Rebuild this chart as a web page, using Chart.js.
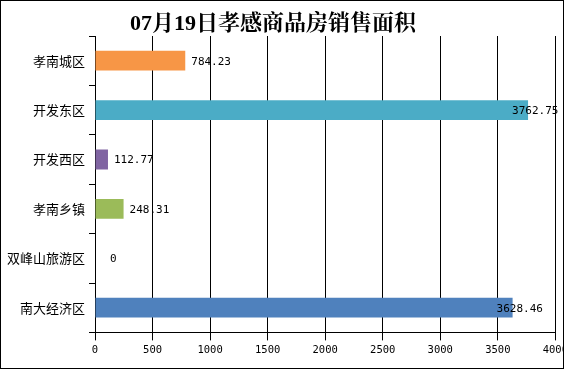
<!DOCTYPE html>
<html>
<head>
<meta charset="utf-8">
<script src="https://cdn.jsdelivr.net/npm/chart.js@4.4.1/dist/chart.umd.min.js"></script>
<style>
  html, body { margin: 0; padding: 0; background: #fff; }
  #wrap { position: relative; width: 564px; height: 369px; overflow: hidden; background: #fff; }
  #frame { position: absolute; left: 0; top: 0; width: 562px; height: 367px; border: 1px solid #000; pointer-events: none; }
  #box { position: absolute; left: 0; top: 0; width: 572px; height: 369px; }
</style>
</head>
<body>
<div id="wrap">
  <div id="box"><canvas id="c"></canvas></div>
  <div id="frame"></div>
</div>
<script>
const titleText = '07月19日孝感商品房销售面积';
const categories = ['孝南城区', '开发东区', '开发西区', '孝南乡镇', '双峰山旅游区', '南大经济区'];
const areaValues = [784.23, 3762.75, 112.77, 248.31, 0, 3628.46];
const barColors = ['#F79646', '#4BACC6', '#8064A2', '#9BBB59', '#C0504D', '#4F81BD'];
const xTicks = [0, 500, 1000, 1500, 2000, 2500, 3000, 3500, 4000];

const titlePlugin = {
  id: 'customTitle',
  afterDraw(chart) {
    const ctx = chart.ctx;
    ctx.save();
    ctx.font = 'bold 22px "Liberation Serif", "Noto Serif CJK SC", "Noto Sans CJK SC", serif';
    ctx.fillStyle = '#000';
    ctx.textAlign = 'center';
    ctx.textBaseline = 'middle';
    ctx.fillText(titleText, 273, 24);
    ctx.restore();
  }
};

const labelPlugin = {
  id: 'barLabels',
  afterDatasetsDraw(chart) {
    const ctx = chart.ctx;
    const meta = chart.getDatasetMeta(0);
    const right = chart.chartArea.right;
    ctx.save();
    ctx.font = '11px "DejaVu Sans Mono", monospace';
    ctx.fillStyle = '#000';
    ctx.textBaseline = 'middle';
    ctx.textAlign = 'left';
    meta.data.forEach((bar, i) => {
      const v = areaValues[i];
      const txt = String(v);
      const w = ctx.measureText(txt).width;
      let x = bar.x + 6;
      if (v === 0) x = bar.x + 15;
      if (x + w > right) x = bar.x - 16;
      ctx.fillText(txt, x, bar.y + 1);
    });
    ctx.restore();
  }
};

new Chart(document.getElementById('c'), {
  type: 'bar',
  data: {
    labels: categories,
    datasets: [{
      data: areaValues,
      backgroundColor: barColors,
      borderWidth: 0,
      barPercentage: 0.8,
      categoryPercentage: 0.5
    }]
  },
  options: {
    indexAxis: 'y',
    responsive: true,
    maintainAspectRatio: false,
    animation: false,
    layout: { padding: { left: 3, right: 0, top: 36, bottom: 8 } },
    plugins: {
      legend: { display: false },
      title: { display: false },
      tooltip: { enabled: false }
    },
    scales: {
      x: {
        min: 0,
        max: 4000,
        afterBuildTicks(scale) { scale.ticks = xTicks.map(v => ({ value: v })); },
        grid: {
          color: '#000',
          lineWidth: 1,
          drawTicks: true,
          tickLength: 8,
          tickColor: '#000'
        },
        border: { display: true, color: '#000', width: 1 },
        ticks: {
          color: '#000',
          padding: 4,
          maxRotation: 0,
          callback: (v) => String(v),
          font: { family: '"DejaVu Sans Mono", monospace', size: 10.5 }
        }
      },
      y: {
        grid: {
          drawOnChartArea: false,
          drawTicks: true,
          tickLength: 6,
          tickColor: '#000',
          offset: true
        },
        border: { display: true, color: '#000', width: 1 },
        ticks: {
          color: '#000',
          padding: 4,
          font: { family: '"Noto Sans CJK SC", sans-serif', size: 13 }
        }
      }
    }
  },
  plugins: [titlePlugin, labelPlugin]
});
</script>
</body>
</html>
